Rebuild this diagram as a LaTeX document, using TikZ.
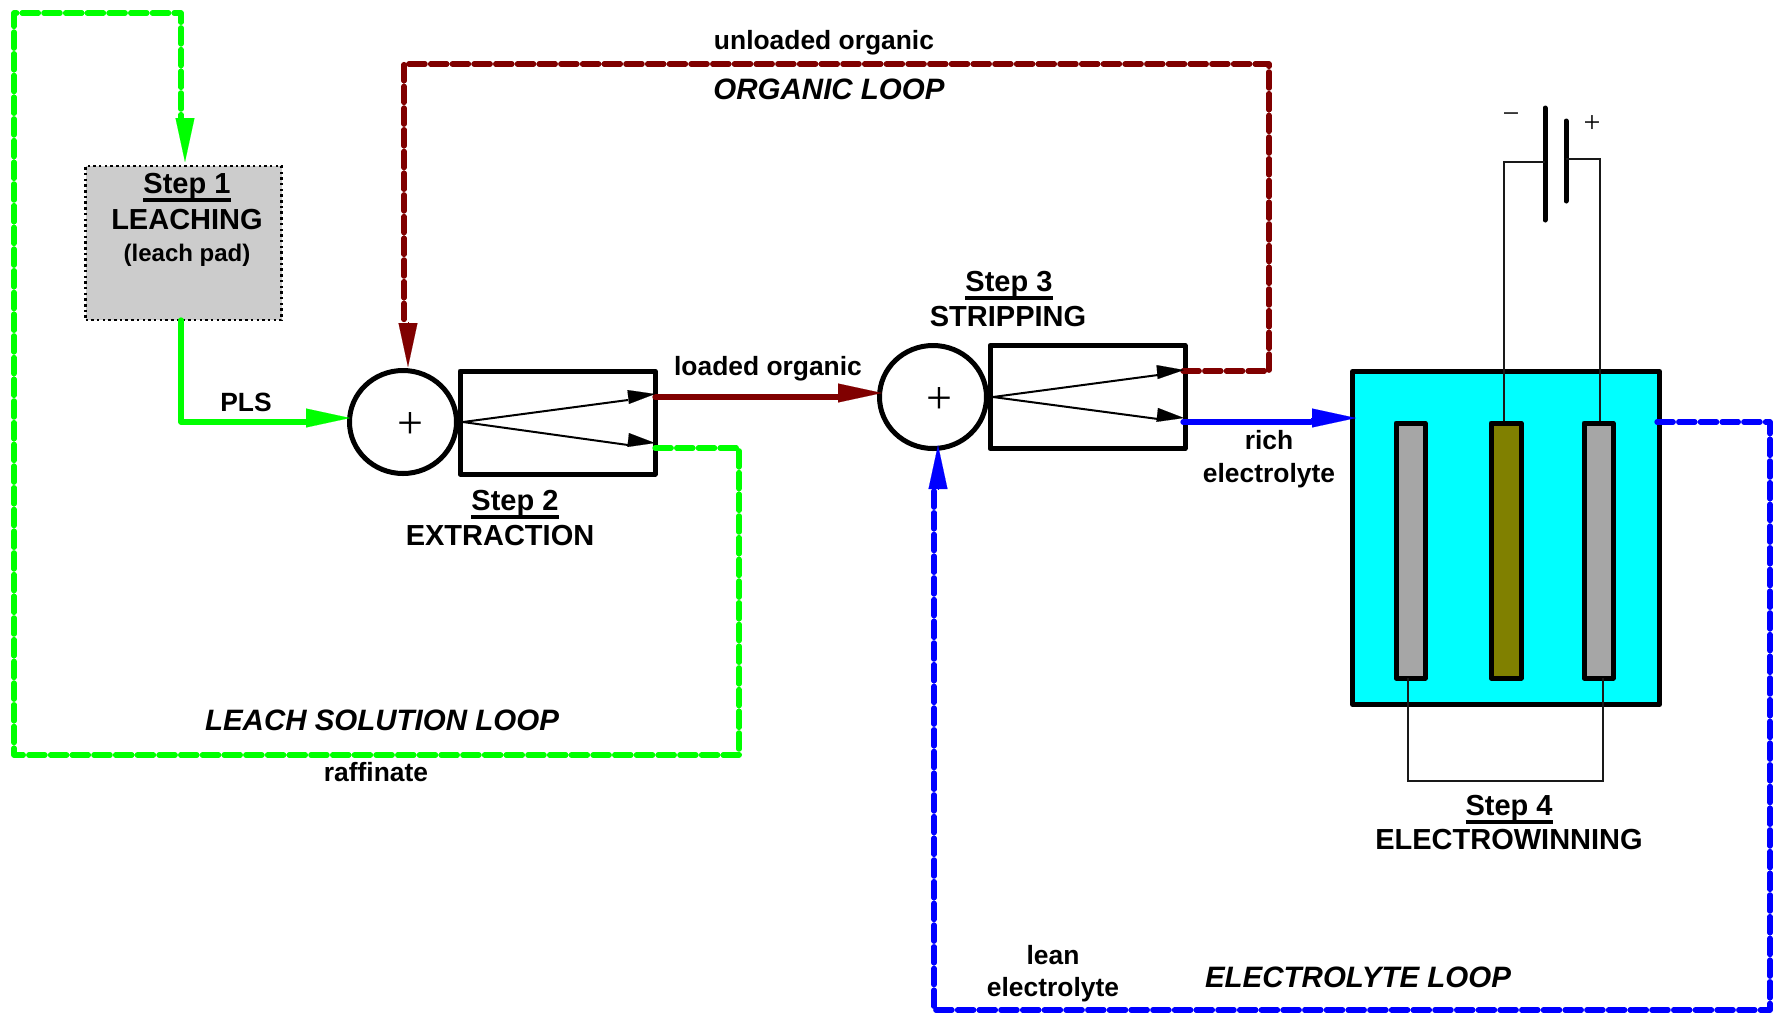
\documentclass[tikz,border=0pt]{standalone}
\usepackage{fontspec}
\setmainfont{Liberation Sans}
\newfontfamily\symfont{Liberation Serif}
\usetikzlibrary{arrows.meta,shapes.geometric}
\definecolor{flowgreen}{HTML}{00FF00}
\definecolor{flowmaroon}{HTML}{800000}
\definecolor{flowblue}{HTML}{0000FF}
\definecolor{cellcyan}{HTML}{00FFFF}
\definecolor{padgray}{HTML}{CCCCCC}
\definecolor{plategray}{HTML}{A6A6A6}
\definecolor{plateolive}{HTML}{808000}
\newcommand{\stepul}[1]{\setbox0=\hbox{#1}\rlap{\rule[-8.5pt]{\wd0}{3.5pt}}\box0}
\newcommand{\thinsym}[2]{{\symfont\fontsize{#1}{#1}\selectfont #2}}
\tikzset{
  flow/.style={line width=5.3pt,line cap=round,line join=round},
  loopflow/.style={flow,dash pattern=on 16.2pt off 5.5pt},
  head/.style={line width=0.1pt,draw=#1,fill=#1,-{Triangle[length=44pt,width=19pt,fill=#1,color=#1]}},
  inhead/.style={line width=0.1pt,draw=black,-{Triangle[length=27pt,width=14pt,fill=black]}},
  stage/.style={draw=black,line width=5pt,line join=round,fill=white,inner sep=0pt,outer sep=0pt},
  mixer/.style={ellipse,draw=black,line width=5pt,fill=white,inner sep=0pt,outer sep=0pt},
  plate/.style={draw=black,line width=5pt,line join=round,inner sep=0pt,outer sep=0pt},
  wire/.style={line width=2.3pt,draw=black!90},
  inner/.style={line width=2pt,draw=black},
  poleplate/.style={line width=5pt,line cap=round},
  lab/.style={anchor=base,inner sep=0pt,outer sep=0pt,font=\bfseries\fontsize{26.4}{26.4}\selectfont},
  big/.style={anchor=base,inner sep=0pt,outer sep=0pt,font=\bfseries\fontsize{29}{29}\selectfont},
  loopname/.style={anchor=base,inner sep=0pt,outer sep=0pt,font=\bfseries\itshape\fontsize{29.5}{29.5}\selectfont},
  sym/.style={inner sep=0pt,outer sep=0pt}
}
\begin{document}
\begin{tikzpicture}[x=1pt,y=-1pt]
\useasboundingbox (0,0) rectangle (1773,1013);

% equipment
\node[draw=black,line width=2.3pt,dash pattern=on 2.5pt off 3.2pt,fill=padgray,minimum width=196pt,minimum height=154pt,inner sep=0pt] (leach) at (183.5,243) {};
\node[mixer,minimum width=107pt,minimum height=103pt] (mixA) at (403,422) {};
\node[stage,minimum width=195pt,minimum height=103pt] (stageA) at (557.5,422.5) {};
\node[mixer,minimum width=107pt,minimum height=103pt] (mixB) at (933,397) {};
\node[stage,minimum width=195pt,minimum height=103pt] (stageB) at (1087.5,397) {};
\node[draw=black,line width=5pt,line join=round,fill=cellcyan,minimum width=307pt,minimum height=333pt,inner sep=0pt,outer sep=0pt] (cell) at (1506,538) {};
\node[plate,fill=plategray,minimum width=29pt,minimum height=255pt] (plateL) at (1410.5,550.5) {};
\node[plate,fill=plateolive,minimum width=30pt,minimum height=255pt] (plateM) at (1506,550.5) {};
\node[plate,fill=plategray,minimum width=29pt,minimum height=255pt] (plateR) at (1598.5,550.5) {};

% ports and bends
\coordinate (leachOut) at (181,320);
\coordinate (plsBend) at (181,422);
\coordinate (plsEnd) at (306,422);
\coordinate (plsBase) at (306,418);
\coordinate (plsTip) at (350,418);
\coordinate (rafStart) at (655,448);
\coordinate (rafA) at (739,448);
\coordinate (rafB) at (739,755);
\coordinate (rafC) at (14,755);
\coordinate (rafD) at (14,13);
\coordinate (rafE) at (181,13);
\coordinate (rafF) at (181,118);
\coordinate (rafBase) at (185,118);
\coordinate (rafTip) at (185,162);
\coordinate (loStart) at (655,397);
\coordinate (loEnd) at (838,397);
\coordinate (loBase) at (838,393);
\coordinate (loTip) at (882,393);
\coordinate (uoStart) at (1183,371);
\coordinate (uoA) at (1269,371);
\coordinate (uoB) at (1269,64);
\coordinate (uoC) at (404,64);
\coordinate (uoD) at (404,322);
\coordinate (uoBase) at (408,322);
\coordinate (uoTip) at (408,367);
\coordinate (reStart) at (1183,422);
\coordinate (reEnd) at (1311,422);
\coordinate (reBase) at (1311,418);
\coordinate (reTip) at (1356,418);
\coordinate (leStart) at (1657,422);
\coordinate (leA) at (1770,422);
\coordinate (leB) at (1770,1010);
\coordinate (leC) at (934,1010);
\coordinate (leD) at (934,489);
\coordinate (leBase) at (938,489);
\coordinate (leTip) at (938,445);

% flows
\draw[flow,flowgreen] (leachOut) -- (plsBend) -- (plsEnd);
\draw[head=flowgreen] (plsBase) -- (plsTip);
\draw[loopflow,flowgreen] (rafStart) -- (rafA) -- (rafB) -- (rafC) -- (rafD) -- (rafE) -- (rafF);
\draw[head=flowgreen] (rafBase) -- (rafTip);
\draw[flow,flowmaroon] (loStart) -- (loEnd);
\draw[head=flowmaroon] (loBase) -- (loTip);
\draw[loopflow,flowmaroon] (uoStart) -- (uoA) -- (uoB) -- (uoC) -- (uoD);
\draw[head=flowmaroon] (uoBase) -- (uoTip);
\draw[flow,flowblue] (reStart) -- (reEnd);
\draw[head=flowblue] (reBase) -- (reTip);
\draw[loopflow,flowblue] (leStart) -- (leA) -- (leB) -- (leC) -- (leD);
\draw[head=flowblue] (leBase) -- (leTip);

% splitters inside the stages
\coordinate (splitA) at (463,422);
\coordinate (aUpEnd) at (628,400);
\coordinate (aUpBase) at (628,397);
\coordinate (aUpTip) at (655,394);
\coordinate (aLoEnd) at (628,445);
\coordinate (aLoBase) at (628,440);
\coordinate (aLoTip) at (655,443);
\draw[inner] (splitA) -- (aUpEnd);
\draw[inhead] (aUpBase) -- (aUpTip);
\draw[inner] (splitA) -- (aLoEnd);
\draw[inhead] (aLoBase) -- (aLoTip);
\coordinate (splitB) at (993,397);
\coordinate (bUpEnd) at (1158,375);
\coordinate (bUpBase) at (1158,372);
\coordinate (bUpTip) at (1184,370);
\coordinate (bLoEnd) at (1158,419);
\coordinate (bLoBase) at (1158,415);
\coordinate (bLoTip) at (1184,418);
\draw[inner] (splitB) -- (bUpEnd);
\draw[inhead] (bUpBase) -- (bUpTip);
\draw[inner] (splitB) -- (bLoEnd);
\draw[inhead] (bLoBase) -- (bLoTip);

% battery and wiring
\coordinate (longTop) at (1545,108);
\coordinate (longBot) at (1545,220);
\coordinate (shortTop) at (1566,121);
\coordinate (shortBot) at (1566,201);
\draw[poleplate] (longTop) -- (longBot);
\draw[poleplate] (shortTop) -- (shortBot);
\coordinate (negA) at (1545,162);
\coordinate (negB) at (1504,162);
\coordinate (negC) at (1504,421);
\coordinate (posA) at (1566,159);
\coordinate (posB) at (1600,159);
\coordinate (posC) at (1600,421);
\draw[wire,line join=miter] (negA) -- (negB) -- (negC);
\draw[wire,line join=miter] (posA) -- (posB) -- (posC);
\coordinate (botA) at (1408,678);
\coordinate (botB) at (1408,781);
\coordinate (botC) at (1603,781);
\coordinate (botD) at (1603,678);
\draw[wire,line join=miter] (botA) -- (botB) -- (botC) -- (botD);

% symbols
\node[sym] (plusA) at (410,425) {\thinsym{46}{+}};
\node[sym] (plusB) at (939,400) {\thinsym{46}{+}};
\node[sym] (minusBat) at (1511,118) {\thinsym{30}{−}};
\node[sym] (plusBat) at (1592,124) {\thinsym{30}{+}};

% text
\node[big] (s1) at (187,193) {\stepul{Step 1}};
\node[big] (s1b) at (187,229) {LEACHING};
\node[lab,font=\bfseries\fontsize{24}{24}\selectfont] (s1c) at (187,261) {(leach pad)};
\node[big] (s2) at (515,510) {\stepul{Step 2}};
\node[big] (s2b) at (500,545) {EXTRACTION};
\node[big] (s3) at (1009,291) {\stepul{Step 3}};
\node[big] (s3b) at (1008,326) {STRIPPING};
\node[big] (s4) at (1509,815) {\stepul{Step 4}};
\node[big] (s4b) at (1509,849) {ELECTROWINNING};
\node[lab] (tPLS) at (246,411) {PLS};
\node[lab] (tLO) at (768,375) {loaded organic};
\node[lab] (tUO) at (824,49) {unloaded organic};
\node[lab] (tRaf) at (376,781) {raffinate};
\node[lab] (tRich) at (1269,449) {rich};
\node[lab] (tRichE) at (1269,482) {electrolyte};
\node[lab] (tLean) at (1053,964) {lean};
\node[lab] (tLeanE) at (1053,996) {electrolyte};
\node[loopname] (lOrg) at (829,99) {ORGANIC LOOP};
\node[loopname] (lLeach) at (382,730) {LEACH SOLUTION LOOP};
\node[loopname] (lElec) at (1358,987) {ELECTROLYTE LOOP};
\end{tikzpicture}
\end{document}
